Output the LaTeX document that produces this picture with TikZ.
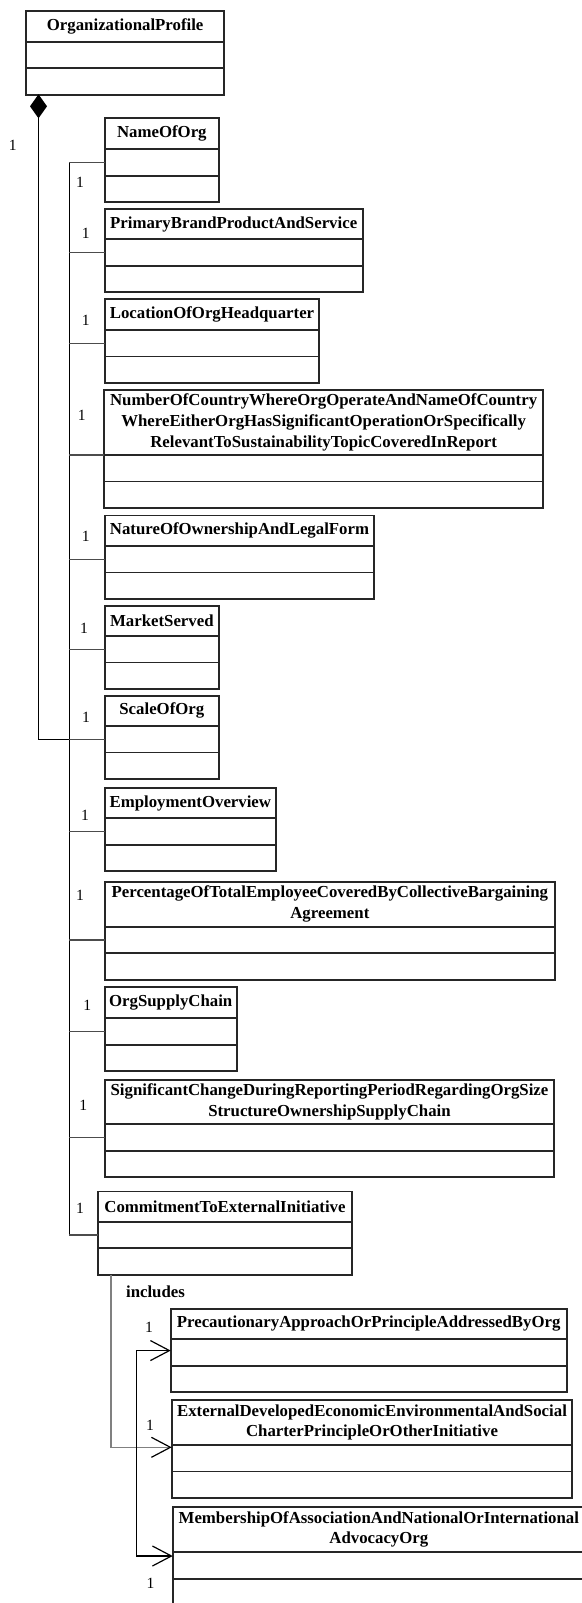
\documentclass[tikz,border=0pt]{standalone}
\usepackage{fontspec}
\setmainfont{Liberation Serif}
\usetikzlibrary{shapes.geometric,arrows.meta}

\tikzset{
  classtitle/.style={draw=black!85, line width=0.9pt, inner sep=0pt, outer sep=0pt,
    align=center, font=\bfseries\fontsize{8.4}{10.4}\selectfont, anchor=north west},
  classpart/.style={draw=black!85, line width=0.9pt, inner sep=0pt, outer sep=0pt,
    anchor=north, minimum height=13.25pt},
  mult/.style={font=\fontsize{7.8}{9}\selectfont, inner sep=0pt},
  trunkline/.style={line width=0.7pt, draw=black},
  link/.style={line width=0.55pt, draw=black!70},
  includeline/.style={line width=0.8pt, draw=black!50},
  navhead/.tip={Straight Barb[length=9.5pt,width=10pt,line width=0.6pt,color=black]},
}

% #1 name, #2 left, #3 top, #4 right, #5 title height, #6 title text
\newcommand\classbox[6]{%
  \node[classtitle, minimum width={0.5pt*(#4-(#2))}, minimum height={0.5pt*(#5)}]
    (#1) at (#2,#3) {#6};
  \node[classpart, minimum width={0.5pt*(#4-(#2))}] (#1-a) at (#1.south) {};
  \node[classpart, minimum width={0.5pt*(#4-(#2))}] (#1-b) at (#1-a.south) {};
}

\begin{document}
\begin{tikzpicture}[x=0.5pt,y=-0.5pt]
\useasboundingbox (0,0) rectangle (582,1603);
\clip (0,0) rectangle (582,1603);

% classes
\classbox{orgprofile}{26}{10.7}{224.3}{31}{OrganizationalProfile}
\classbox{nameoforg}{104.7}{118.3}{219}{31}{NameOfOrg}
\classbox{primary}{104.7}{209}{362.7}{30.3}{PrimaryBrandProductAndService}
\classbox{location}{104.7}{299}{319.3}{31}{LocationOfOrgHeadquarter}
\classbox{number}{104}{390}{543.3}{65}{NumberOfCountryWhereOrgOperateAndNameOfCountry\\WhereEitherOrgHasSignificantOperationOrSpecifically\\RelevantToSustainabilityTopicCoveredInReport}
\classbox{nature}{104.7}{515.5}{374.3}{30.5}{NatureOfOwnershipAndLegalForm}
\classbox{market}{104.7}{606}{219}{30}{MarketServed}
\classbox{scaleoforg}{104.7}{695.7}{219}{30.3}{ScaleOfOrg}
\classbox{employment}{104.7}{787.7}{276}{30.6}{EmploymentOverview}
\classbox{percentage}{104.7}{881.7}{555}{45}{PercentageOfTotalEmployeeCoveredByCollectiveBargaining\\Agreement}
\classbox{orgsupply}{104.7}{986.7}{236.7}{31.6}{OrgSupplyChain}
\classbox{significant}{104.7}{1080}{554.3}{44.3}{SignificantChangeDuringReportingPeriodRegardingOrgSize\\StructureOwnershipSupplyChain}
\classbox{commitment}{98.3}{1191.5}{351.7}{30.2}{CommitmentToExternalInitiative}
\classbox{precautionary}{170.7}{1308.7}{566.7}{30.6}{PrecautionaryApproachOrPrincipleAddressedByOrg}
\classbox{external}{171.7}{1400}{572.3}{45}{ExternalDevelopedEconomicEnvironmentalAndSocial\\CharterPrincipleOrOtherInitiative}
\classbox{membership}{172.7}{1506.7}{585}{45.6}{MembershipOfAssociationAndNationalOrInternational\\AdvocacyOrg}

% composition from OrganizationalProfile
\node[diamond, fill=black, draw=none, inner sep=0pt, outer sep=0pt, minimum width=8.5pt,
  minimum height=12pt, anchor=north] (comp) at (38.5,94.3) {};
\draw[trunkline] (comp.south) |- (scaleoforg-a.west);

% shared trunk for the remaining parts
\coordinate (trunk) at (69.3,0);
\draw[trunkline] (trunk |- nameoforg-a.west) -- (trunk |- commitment-a.west);
\foreach \c in {nameoforg,primary,location,nature,market,scaleoforg,
  employment,percentage,orgsupply,significant,commitment}
  \draw[link] (trunk |- \c-a.west) -- (\c-a.west);
\draw[link] (trunk |- number.south west) -- (number.south west);

% multiplicities
\node[mult] (m0) at (12.7,145.7) {1};
\node[mult] (m1) at (80,182.7) {1};
\node[mult] (m2) at (85.7,233.3) {1};
\node[mult] (m3) at (85.7,320.7) {1};
\node[mult] (m4) at (81.7,415) {1};
\node[mult] (m5) at (85.7,536.7) {1};
\node[mult] (m6) at (84,628.3) {1};
\node[mult] (m7) at (86,717.3) {1};
\node[mult] (m8) at (85,815.7) {1};
\node[mult] (m9) at (80,895.7) {1};
\node[mult] (m10) at (87.3,1005) {1};
\node[mult] (m11) at (83.3,1105) {1};
\node[mult] (m12) at (80,1208.3) {1};
\node[mult] (m13) at (149,1327.3) {1};
\node[mult] (m14) at (150,1425) {1};
\node[mult] (m15) at (150.5,1583) {1};

% includes association
\coordinate (incl) at (110.7,0);
\coordinate (brk) at (136.7,0);
\node[font=\bfseries\fontsize{8.4}{10}\selectfont, inner sep=0pt] (incltext)
  at (155.5,1291.5) {includes};
\draw[includeline, -navhead] (commitment-b.south -| incl)
  |- ([yshift=-1.15pt]external.south west);
\draw[trunkline, navhead-navhead] ([yshift=1pt]precautionary-a.west)
  -- ([yshift=1pt]precautionary-a.west -| brk)
  -- ([yshift=-1.85pt]membership.south west -| brk)
  -- ([yshift=-1.85pt]membership.south west);
\end{tikzpicture}
\end{document}
